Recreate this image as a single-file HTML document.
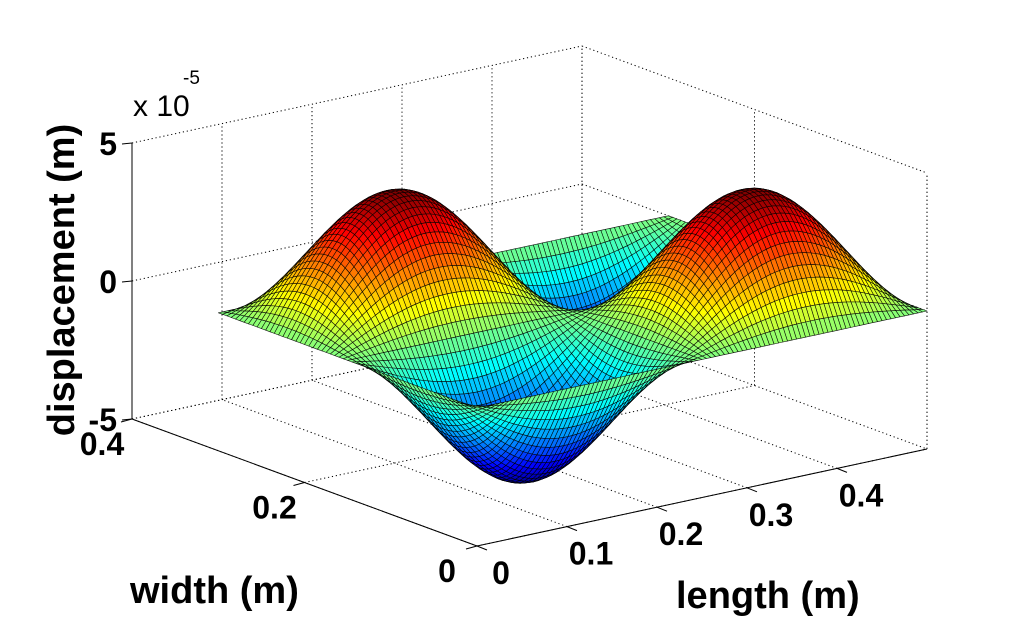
<!DOCTYPE html>
<html><head><meta charset="utf-8">
<style>
html,body{margin:0;padding:0;background:#fff;}
svg{display:block;font-family:"Liberation Sans",Arial,sans-serif;}
</style></head>
<body>
<svg id="chart" width="1025" height="619" viewBox="0 0 1025 619" xmlns="http://www.w3.org/2000/svg">
<rect x="0" y="0" width="1025" height="619" fill="#fff"/>
<g id="grid"></g>
<g id="axes"></g>
<g id="surf"></g>
<g id="labels" font-weight="bold" font-size="32" fill="#000"></g>
<text x="133" y="116" font-size="30">x 10</text>
<text x="183" y="84" font-size="19">-5</text>
<text x="130" y="603" font-size="38" font-weight="bold">width (m)</text>
<text x="676" y="608" font-size="38" font-weight="bold">length (m)</text>
<text transform="translate(74,280) rotate(-90)" text-anchor="middle" font-size="38" font-weight="bold">displacement (m)</text>
</svg>
<script>
const lengthTicks = [0, 0.1, 0.2, 0.3, 0.4];
const lengthTickLabels = ["0", "0.1", "0.2", "0.3", "0.4"];
const widthTicks = [0, 0.2, 0.4];
const widthTickLabels = ["0", "0.2", "0.4"];
const zTicks = [-5, 0, 5];
const zTickLabels = ["-5", "0", "5"];
const lengthRange = [0, 0.5];
const widthRange = [0, 0.4];
const zRange = [-5, 5];
const plateLength = 0.5;
const plateWidth = 0.3;
const amplitude = 4.4;       // x 1e-5 m
const modeLength = 2;
const modeWidth = 2;
const nL = 100;
const nW = 60;

const NS = "http://www.w3.org/2000/svg";
function P(L, W, z) {
  return [477 + 900 * L - 862.5 * W,
          546 - 194 * L - 317.5 * W - 27.6 * (z - zRange[0])];
}
function mk(tag, attrs, parent) {
  const e = document.createElementNS(NS, tag);
  for (const k in attrs) e.setAttribute(k, attrs[k]);
  parent.appendChild(e);
  return e;
}
function line(a, b, parent, dotted, w) {
  return mk("line", {x1: a[0], y1: a[1], x2: b[0], y2: b[1], stroke: "#000",
    "stroke-width": w || 1, "stroke-dasharray": dotted ? "1.2,2.8" : "none"}, parent);
}
const grid = document.getElementById("grid");
const axes = document.getElementById("axes");
const labels = document.getElementById("labels");
const Lmax = lengthRange[1], Wmax = widthRange[1], zmin = zRange[0], zmax = zRange[1];

lengthTicks.forEach(t => {
  const g = line(P(t, 0, zmin), P(t, Wmax, zmin), grid, true);
  
  
  const v = line(P(t, Wmax, zmin), P(t, Wmax, zmax), grid, true);
  
  
});
widthTicks.forEach(t => {
  const g = line(P(0, t, zmin), P(Lmax, t, zmin), grid, true);
  
  
  const v = line(P(Lmax, t, zmin), P(Lmax, t, zmax), grid, true);
  
  
});
zTicks.forEach(t => {
  const a = line(P(0, Wmax, t), P(Lmax, Wmax, t), grid, true);
  
  
  const b = line(P(Lmax, Wmax, t), P(Lmax, 0, t), grid, true);
  
  
});
[[P(Lmax,0,zmin),P(Lmax,0,zmax)],[P(Lmax,Wmax,zmin),P(Lmax,Wmax,zmax)]].forEach(s=>{
  const e = line(s[0], s[1], grid, true);
  
  
});
const ax1 = line(P(0,0,zmin), P(Lmax,0,zmin), axes, false);


const ax2 = line(P(0,0,zmin), P(0,Wmax,zmin), axes, false);


const ax3 = line(P(0,Wmax,zmin), P(0,Wmax,zmax), axes, false);



lengthTicks.forEach((t, i) => {
  const p = P(t, 0, zmin);
  const tk = line(p, [p[0] + 10, p[1] + 4], axes, false);
  
  
  const tx = mk("text", {x: p[0] + 24, y: p[1] + 38, "text-anchor": "middle"}, labels);
  tx.textContent = lengthTickLabels[i];
  
  
});
widthTicks.forEach((t, i) => {
  const p = P(0, t, zmin);
  const tk = line(p, [p[0] - 11, p[1] + 3], axes, false);
  
  
  const tx = mk("text", {x: p[0] - 30, y: p[1] + 36, "text-anchor": "middle"}, labels);
  tx.textContent = widthTickLabels[i];
  
  
});
zTicks.forEach((t, i) => {
  const p = P(0, Wmax, t);
  const tk = line(p, [p[0] - 10, p[1] + 1], axes, false);
  
  
  const tx = mk("text", {x: p[0] - 15, y: p[1] + 12, "text-anchor": "end"}, labels);
  tx.textContent = zTickLabels[i];
  
  
});

function jet(v) {
  const c = x => Math.max(0, Math.min(1, x));
  const r = c(1.5 - Math.abs(4 * v - 3));
  const g = c(1.5 - Math.abs(4 * v - 2));
  const b = c(1.5 - Math.abs(4 * v - 1));
  return "rgb(" + Math.round(r * 255) + "," + Math.round(g * 255) + "," + Math.round(b * 255) + ")";
}
function Z(L, W) {
  return -amplitude * Math.sin(modeLength * Math.PI * L / plateLength) * Math.sin(modeWidth * Math.PI * W / plateWidth);
}
const quads = [];
for (let i = 0; i < nL; i++) {
  for (let j = 0; j < nW; j++) {
    const L0 = plateLength * i / nL, L1 = plateLength * (i + 1) / nL;
    const W0 = plateWidth * j / nW, W1 = plateWidth * (j + 1) / nW;
    const zs = [Z(L0, W0), Z(L1, W0), Z(L1, W1), Z(L0, W1)];
    const pts = [P(L0, W0, zs[0]), P(L1, W0, zs[1]), P(L1, W1, zs[2]), P(L0, W1, zs[3])];
    const zm = (zs[0] + zs[1] + zs[2] + zs[3]) / 4;
    const depth = 194 * (L0 + L1) / 2 + 317.5 * (W0 + W1) / 2;
    quads.push({pts, zm, depth});
  }
}
quads.sort((a, b) => b.depth - a.depth);
const surf = document.getElementById("surf");
quads.forEach(q => {
  const el = mk("polygon", {
    points: q.pts.map(p => p[0].toFixed(1) + "," + p[1].toFixed(1)).join(" "),
    fill: jet((q.zm + amplitude) / (2 * amplitude)),
    stroke: "#000", "stroke-width": "0.6", "stroke-opacity": "0.9", "stroke-linejoin": "round"
  }, surf);
  
  
});
</script>
</body></html>
